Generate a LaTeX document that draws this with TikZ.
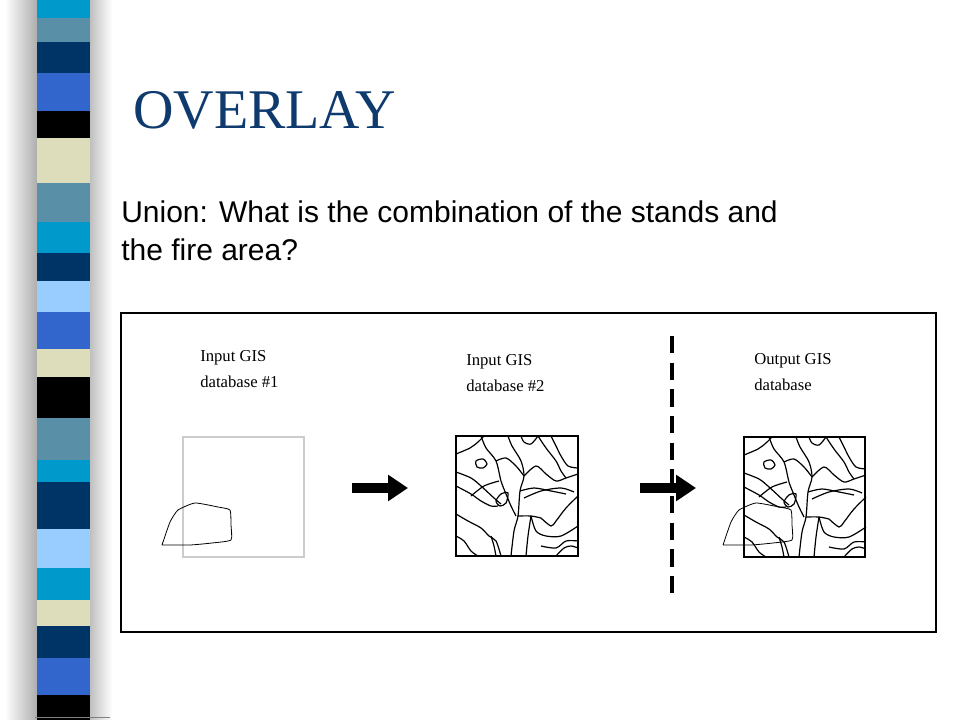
\documentclass[tikz,border=0pt]{standalone}
\usepackage{fontspec}
\setmainfont{Liberation Serif}
\newfontfamily\arialf{Liberation Sans}
\definecolor{cyanb}{HTML}{0099CC}
\definecolor{steel}{HTML}{5A8FA8}
\definecolor{navy}{HTML}{003366}
\definecolor{royal}{HTML}{3366CC}
\definecolor{beige}{HTML}{DDDDBB}
\definecolor{lblue}{HTML}{99CCFF}
\definecolor{titlec}{HTML}{0E3A6E}
\newcommand{\standlines}{%
 \draw[stand] plot[smooth] coordinates {(0,18) (14,12) (22,6) (28,0)};
 \draw[stand] plot[smooth cycle] coordinates {(20,25) (27,23) (31,28) (27,32) (21,31)};
 \draw[stand] plot[smooth] coordinates {(0,36) (15,42) (25,50) (38,62) (45,68)};
 \draw[stand] plot[smooth] coordinates {(0,50) (15,58) (25,65) (35,70) (42,70)};
 \draw[stand] plot[smooth] coordinates {(0,78) (12,85) (25,92) (33,100) (40,105) (45,120)};
 \draw[stand] plot[smooth] coordinates {(0,100) (8,105) (15,115) (22,120)};
 \draw[stand] plot[smooth] coordinates {(25,0) (30,12) (40,25) (45,45) (50,58) (55,70) (60,80)};
 \draw[stand] plot[smooth] coordinates {(40,25) (50,22) (60,30) (68,40)};
 \draw[stand] plot[smooth] coordinates {(15,60) (28,50) (43,45)};
 \draw[stand] plot[smooth cycle] coordinates {(40,65) (45,58) (52,57) (50,67) (44,70)};
 \draw[stand] plot[smooth] coordinates {(52,0) (56,10) (65,25) (68,40) (64,55) (62,80) (58,95) (55,120)};
 \draw[stand] plot[smooth] coordinates {(62,80) (75,80) (85,82)};
 \draw[stand] plot[smooth] coordinates {(68,40) (80,30) (90,38) (100,45) (110,42) (122,38)};
 \draw[stand] plot[smooth] coordinates {(65,0) (68,6) (75,8) (82,0)};
 \draw[stand] plot[smooth] coordinates {(82,0) (90,12) (100,25) (105,35) (110,42)};
 \draw[stand] plot[smooth] coordinates {(95,0) (100,10) (105,20) (112,30) (122,32)};
 \draw[stand] plot[smooth] coordinates {(68,62) (85,55) (105,52) (118,56)};
 \draw[stand] plot[smooth] coordinates {(64,55) (78,52) (95,55) (110,58)};
 \draw[stand] plot[smooth] coordinates {(85,82) (95,90) (100,85) (110,72) (122,60)};
 \draw[stand] plot[smooth] coordinates {(75,80) (80,95) (90,100) (105,100) (122,90)};
 \draw[stand] plot[smooth] coordinates {(75,80) (72,100) (70,120)};
 \draw[stand] plot[smooth] coordinates {(85,110) (100,112) (110,105) (122,105)};
 \draw[stand] plot[smooth] coordinates {(100,120) (108,112) (115,110) (122,112)};
 \draw[stand] plot[smooth] coordinates {(35,100) (38,110) (40,120)};
}
\newcommand{\firepoly}{%
 \draw[fire] plot[smooth] coordinates {(162,545) (170,522) (178,510) (195,503) (218,507) (230,510) (231,525) (231,540) (212,543) (190,545) (162,545)};
}
\tikzset{
 stand/.style={line width=0.9pt, black},
 fire/.style={line width=0.6pt, black, tension=0.3},
 lbl/.style={anchor=north west, align=left, font=\fontsize{12.5}{19.5}\selectfont, inner sep=0pt},
 fatarrow/.style={-{Triangle[length=15pt,width=19pt]}, line width=7pt},
}
\usetikzlibrary{arrows.meta}
\begin{document}
\begin{tikzpicture}[x=0.75pt,y=-0.75pt]
\useasboundingbox (0,0) rectangle (960,720);
\fill[white] (0,0) rectangle (960,720);
\shade[left color=white, right color=gray!70] (5,0) rectangle (40,720);
\shade[left color=gray!50, right color=white] (90,0) rectangle (112,720);
\foreach \a/\b/\c in {0/13/cyanb,13/30/steel,30/53/navy,53/80/royal,80/100/black,100/132/beige,132/160/steel,160/183/cyanb,183/203/navy,203/225/lblue,225/252/royal,252/272/beige,272/302/black,302/332/steel,332/348/cyanb,348/382/navy,382/410/lblue,410/433/cyanb,433/452/beige,452/475/navy,475/502/royal,502/520/black}
 {\fill[\c] (37,\a*1.385) rectangle (90,\b*1.385);}
\draw[gray] (35,717) -- (110,717);
\node[anchor=west, text=titlec, font=\fontsize{42}{44}\selectfont, inner sep=0pt] (title) at (133,110) {OVERLAY};
\node[anchor=north west, align=left, font=\arialf\fontsize{22.5}{28.5}\selectfont, inner sep=0pt] (sub) at (121,200) {Union: What is the combination of the stands and\\the fire area?};
\draw[line width=0.8pt] (121,313) rectangle (936,632);
\node[lbl] (l1) at (200,350) {Input GIS\\database \#1};
\node[lbl] (l2) at (466,354) {Input GIS\\database \#2};
\node[lbl] (l3) at (754,353) {Output GIS\\database};
\draw[gray!40, line width=1.2pt] (183,437) rectangle (304,557);
\firepoly
\begin{scope}[shift={(456,436)}]
\draw[line width=1pt] (0,0) rectangle (122,120);
\standlines
\end{scope}
\begin{scope}[shift={(744,437)}]
\draw[line width=1pt] (0,0) rectangle (121,120);
\standlines
\end{scope}
\begin{scope}[shift={(561,0)}]\firepoly\end{scope}
\coordinate (a1s) at (352,488); \coordinate (a1e) at (408,488);
\coordinate (a2s) at (640,488); \coordinate (a2e) at (696,488);
\draw[fatarrow] (a1s) -- (a1e);
\draw[fatarrow] (a2s) -- (a2e);
\coordinate (d1) at (672,336); \coordinate (d2) at (672,600);
\draw[line width=3pt, dash pattern=on 13pt off 7pt] (d1) -- (d2);
\end{tikzpicture}
\end{document}
